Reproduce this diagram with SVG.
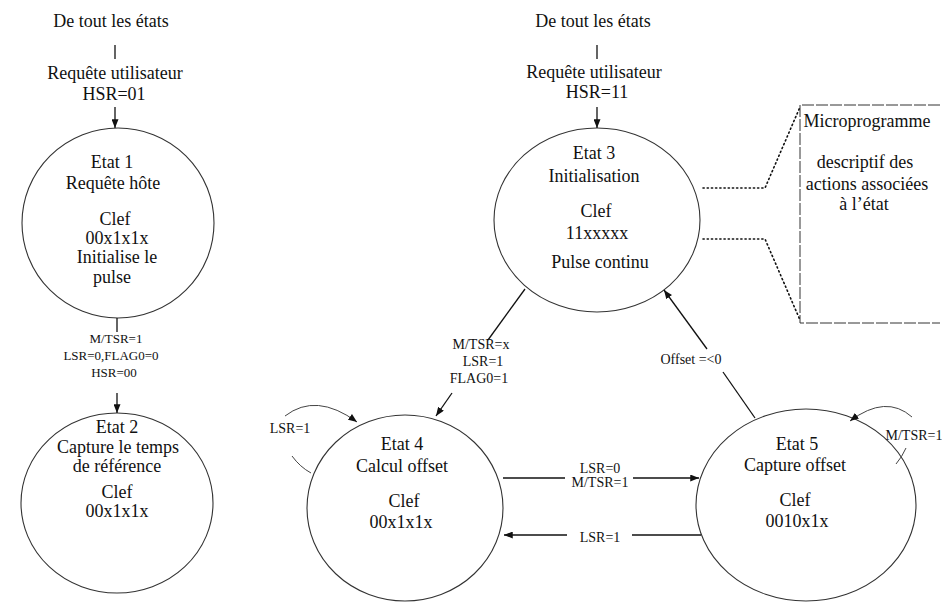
<svg xmlns="http://www.w3.org/2000/svg" width="942" height="603" viewBox="0 0 942 603">
<style>
  text { font-family: "Liberation Serif", "Times New Roman", serif; fill: #111; text-anchor: middle; }
  .big { font-size: 18px; }
  .sm { font-size: 14px; }
  .xs { font-size: 13px; }
  .state { fill: #fff; stroke: #333; stroke-width: 1.1; }
  .ln { fill: none; stroke: #111; stroke-width: 1.3; }
  .loop { fill: none; stroke: #444; stroke-width: 1; }
  .dot { fill: none; stroke: #111; stroke-width: 1.6; stroke-dasharray: 1.2 3; stroke-linecap: round; }
  .box { fill: none; stroke: #333; stroke-width: 1; stroke-dasharray: 12 2; }
</style>
<defs>
  <marker id="ah" viewBox="0 0 10 8" refX="10" refY="4" markerWidth="9" markerHeight="7" orient="auto" markerUnits="userSpaceOnUse">
    <path d="M0,0 L10,4 L0,8 z" fill="#111"/>
  </marker>
</defs>
<rect width="942" height="603" fill="#fff"/>

<g id="entry-left">
  <text class="big" x="111" y="27">De tout les états</text>
  <text class="big" x="115" y="79">Requête utilisateur</text>
  <text class="big" x="114" y="100">HSR=01</text>
</g>
<g id="entry-right">
  <text class="big" x="593" y="27">De tout les états</text>
  <text class="big" x="594" y="78">Requête utilisateur</text>
  <text class="big" x="597" y="98">HSR=11</text>
</g>

<g id="etat1">
  <ellipse class="state" cx="118" cy="223" rx="96" ry="95"/>
  <text class="big" x="112" y="168">Etat 1</text>
  <text class="big" x="113" y="189">Requête hôte</text>
  <text class="big" x="115" y="225">Clef</text>
  <text class="big" x="117" y="244">00x1x1x</text>
  <text class="big" x="117" y="263">Initialise le</text>
  <text class="big" x="112" y="283">pulse</text>
</g>

<g id="etat2">
  <ellipse class="state" cx="117" cy="503" rx="96" ry="90"/>
  <text class="big" x="117" y="433">Etat 2</text>
  <text class="big" x="118" y="453">Capture le temps</text>
  <text class="big" x="117" y="472">de référence</text>
  <text class="big" x="117" y="498">Clef</text>
  <text class="big" x="117" y="517">00x1x1x</text>
</g>

<g id="etat3">
  <ellipse class="state" cx="597" cy="220" rx="103" ry="92"/>
  <text class="big" x="594" y="159">Etat 3</text>
  <text class="big" x="594" y="182">Initialisation</text>
  <text class="big" x="596" y="217">Clef</text>
  <text class="big" x="597" y="239">11xxxxx</text>
  <text class="big" x="600" y="268">Pulse continu</text>
</g>

<g id="etat4">
  <ellipse class="state" cx="405" cy="508" rx="98" ry="93"/>
  <text class="big" x="402" y="450">Etat 4</text>
  <text class="big" x="402" y="472">Calcul offset</text>
  <text class="big" x="404" y="507">Clef</text>
  <text class="big" x="401" y="528">00x1x1x</text>
</g>

<g id="etat5">
  <ellipse class="state" cx="806" cy="505" rx="110" ry="96"/>
  <text class="big" x="797" y="450">Etat 5</text>
  <text class="big" x="795" y="471">Capture offset</text>
  <text class="big" x="795" y="506">Clef</text>
  <text class="big" x="797" y="527">0010x1x</text>
</g>

<g id="microprogramme">
  <path class="box" d="M940 105 H800 V323 H940"/>
  <text class="big" x="867" y="127">Microprogramme</text>
  <text class="big" x="865" y="168">descriptif des</text>
  <text class="big" x="867" y="190">actions associées</text>
  <text class="big" x="864" y="210">à l’état</text>
</g>

<g id="connectors">
  <line class="ln" x1="115" y1="45" x2="115" y2="59"/>
  <line class="ln" x1="115" y1="107" x2="115" y2="128" marker-end="url(#ah)"/>
  <line class="ln" x1="597" y1="45" x2="597" y2="59"/>
  <line class="ln" x1="597" y1="107" x2="597" y2="128" marker-end="url(#ah)"/>

  <line class="ln" x1="117" y1="318" x2="117" y2="332"/>
  <text class="xs" x="116" y="343">M/TSR=1</text>
  <text class="xs" x="111" y="360">LSR=0,FLAG0=0</text>
  <text class="xs" x="114" y="377">HSR=00</text>
  <line class="ln" x1="117" y1="393" x2="117" y2="413" marker-end="url(#ah)"/>

  <line class="ln" x1="525" y1="289" x2="488" y2="340"/>
  <text class="sm" x="481" y="349">M/TSR=x</text>
  <text class="sm" x="483" y="366">LSR=1</text>
  <text class="sm" x="479" y="383">FLAG0=1</text>
  <line class="ln" x1="452" y1="393" x2="436" y2="416" marker-end="url(#ah)"/>

  <line class="ln" x1="755" y1="418" x2="723" y2="372"/>
  <text class="sm" x="691" y="364">Offset =&lt;0</text>
  <line class="ln" x1="707" y1="349" x2="664" y2="290" marker-end="url(#ah)"/>

  <line class="ln" x1="503" y1="478" x2="565" y2="478"/>
  <text class="sm" x="600" y="473">LSR=0</text>
  <text class="sm" x="600" y="487">M/TSR=1</text>
  <line class="ln" x1="633" y1="478" x2="699" y2="478" marker-end="url(#ah)"/>

  <line class="ln" x1="701" y1="535" x2="632" y2="535"/>
  <text class="sm" x="600" y="542">LSR=1</text>
  <line class="ln" x1="567" y1="535" x2="504" y2="535" marker-end="url(#ah)"/>

  <path class="loop" d="M311 473 Q300 467 292 456"/>
  <text class="sm" x="290" y="433">LSR=1</text>
  <path class="loop" d="M285 416 Q316 392 357 422" marker-end="url(#ah)"/>

  <path class="loop" d="M896 464 Q902 457 906 448"/>
  <text class="sm" x="914" y="440">M/TSR=1</text>
  <path class="loop" d="M912 417 Q886 394 850 421" marker-end="url(#ah)"/>

  <path class="dot" d="M703 188 H765 L800 107"/>
  <path class="dot" d="M703 239 H765 L800 320"/>
</g>
</svg>
